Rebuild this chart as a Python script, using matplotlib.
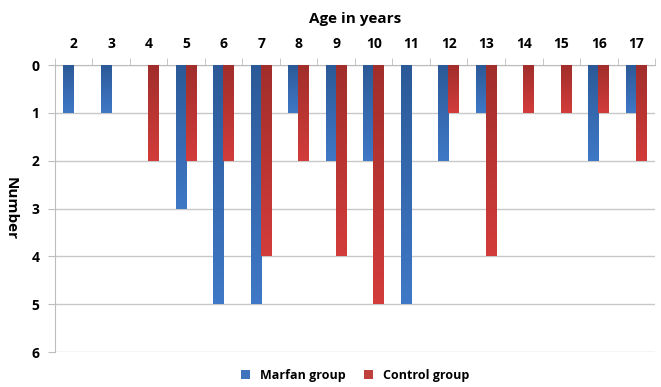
import numpy as np
import matplotlib
matplotlib.use("Agg")
import matplotlib.pyplot as plt
from matplotlib.colors import LinearSegmentedColormap

ages = [2, 3, 4, 5, 6, 7, 8, 9, 10, 11, 12, 13, 14, 15, 16, 17]
marfan = [1, 1, 0, 3, 5, 5, 1, 2, 2, 5, 2, 1, 0, 0, 2, 1]
control = [0, 0, 2, 2, 2, 4, 2, 4, 5, 0, 1, 4, 1, 1, 1, 2]

plt.rcParams['font.family'] = ['Open Sans', 'DejaVu Sans']

fig = plt.figure(figsize=(6.61, 3.87), dpi=100)
ax = fig.add_axes([0.083, 0.090, 0.908, 0.742])

x = np.arange(len(ages))
w = 0.27
blue_cm = LinearSegmentedColormap.from_list('b', ['#2c5a98', '#3f78c6'])
red_cm = LinearSegmentedColormap.from_list('r', ['#a12e2b', '#d23c3a'])

b1 = ax.bar(x - w / 2 - 0.01, marfan, w, color='#3f74bd', label='Marfan group', zorder=3)
b2 = ax.bar(x + w / 2 - 0.01, control, w, color='#c0403d', label='Control group', zorder=3)

# vertical shading inside each bar
grad = np.linspace(0, 1, 64).reshape(-1, 1)
for bars, cm in [(b1, blue_cm), (b2, red_cm)]:
    for p in bars:
        h = p.get_height()
        if h == 0:
            continue
        x0 = p.get_x()
        im = ax.imshow(grad, cmap=cm, aspect='auto', origin='upper',
                       extent=[x0, x0 + p.get_width(), h, 0], zorder=4)
        im.set_clip_path(p)

ax.set_xlim(-0.5, len(ages) - 0.5)
ax.set_ylim(6, 0)
ax.set_yticks(range(7))
ax.yaxis.grid(True, color='#c8c8c8', lw=1, zorder=0)

ax.xaxis.tick_top()
ax.xaxis.set_label_position('top')
ax.set_xticks(x)
ax.set_xticklabels([str(a) for a in ages])
ax.set_xticks(np.arange(-0.5, len(ages), 1), minor=True)
ax.tick_params(axis='x', which='major', length=0, pad=10, labelsize=10)
ax.tick_params(axis='x', which='minor', length=5, color='#bdbdbd')
ax.tick_params(axis='y', length=5, color='#bdbdbd', labelsize=10, pad=6)
for lbl in ax.get_xticklabels() + ax.get_yticklabels():
    lbl.set_fontweight('bold')

for s in ['right', 'bottom']:
    ax.spines[s].set_visible(False)
for s in ['top', 'left']:
    ax.spines[s].set_color('#bdbdbd')

ax.set_xlabel('Age in years', fontsize=11, fontweight='bold', labelpad=10)
ax.set_ylabel('Number', fontsize=11, fontweight='bold', rotation=-90, labelpad=20)

ax.legend(loc='upper center', bbox_to_anchor=(0.5, -0.02), ncol=2, frameon=False,
          handlelength=0.7, handleheight=0.7, columnspacing=1.5,
          prop={'weight': 'bold', 'size': 9})

fig.savefig('out.png', dpi=100)
